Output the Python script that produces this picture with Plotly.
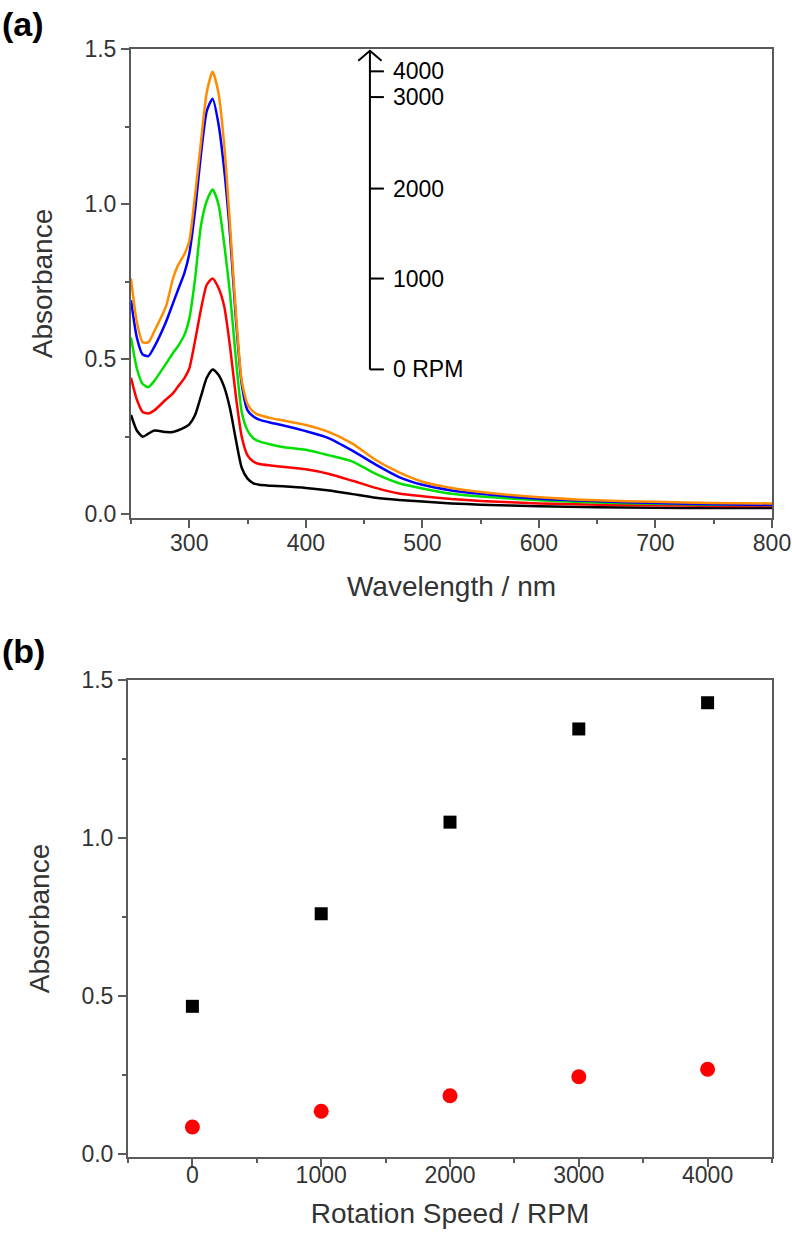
import plotly.graph_objects as go

# (a) UV-vis spectra at different rotation speeds
wavelength = [250, 255, 260, 265, 270, 280, 286, 290, 296, 300, 305, 310, 315, 320, 325,
              330, 335, 340, 345, 350, 355, 360, 370, 380, 400, 420, 440, 460, 480,
              500, 525, 550, 600, 650, 700, 750, 800]

abs_0rpm = [0.32, 0.27, 0.25, 0.26, 0.27, 0.265, 0.265, 0.27, 0.28, 0.29, 0.32, 0.38, 0.44,
            0.467, 0.45, 0.41, 0.34, 0.24, 0.15, 0.115, 0.10, 0.095, 0.092, 0.09, 0.085,
            0.077, 0.065, 0.053, 0.046, 0.041, 0.035, 0.031, 0.026, 0.023, 0.021, 0.02, 0.02]
abs_1000rpm = [0.44, 0.37, 0.33, 0.325, 0.335, 0.37, 0.39, 0.41, 0.44, 0.47, 0.56, 0.66, 0.74,
               0.76, 0.73, 0.67, 0.54, 0.38, 0.25, 0.19, 0.17, 0.162, 0.157, 0.153, 0.145,
               0.13, 0.108, 0.085, 0.067, 0.058, 0.049, 0.043, 0.035, 0.031, 0.029, 0.027, 0.027]
abs_2000rpm = [0.57, 0.47, 0.42, 0.41, 0.43, 0.485, 0.52, 0.54, 0.58, 0.63, 0.76, 0.93, 1.01,
               1.047, 1.00, 0.87, 0.71, 0.50, 0.33, 0.27, 0.245, 0.235, 0.225, 0.217, 0.208,
               0.19, 0.17, 0.13, 0.10, 0.083, 0.066, 0.057, 0.045, 0.038, 0.034, 0.031, 0.03]
abs_3000rpm = [0.69, 0.57, 0.515, 0.51, 0.54, 0.62, 0.68, 0.72, 0.78, 0.84, 0.98, 1.16, 1.30,
               1.34, 1.26, 1.11, 0.90, 0.63, 0.42, 0.335, 0.315, 0.305, 0.295, 0.287, 0.268,
               0.245, 0.205, 0.16, 0.12, 0.095, 0.077, 0.066, 0.05, 0.042, 0.036, 0.032, 0.03]
abs_4000rpm = [0.76, 0.62, 0.555, 0.555, 0.59, 0.67, 0.76, 0.80, 0.84, 0.88, 1.03, 1.20, 1.36,
               1.427, 1.36, 1.19, 0.93, 0.65, 0.43, 0.355, 0.33, 0.32, 0.31, 0.303, 0.288,
               0.265, 0.228, 0.175, 0.135, 0.105, 0.085, 0.072, 0.055, 0.045, 0.04, 0.036, 0.035]

spectra = [abs_0rpm, abs_1000rpm, abs_2000rpm, abs_3000rpm, abs_4000rpm]
colors = ["#000000", "#ff0000", "#00e000", "#0000ff", "#ff8c00"]

# (b) absorbance vs rotation speed
rpm = [0, 1000, 2000, 3000, 4000]
rpm_labels = ["0 RPM", "1000", "2000", "3000", "4000"]
peak_abs = [0.467, 0.76, 1.05, 1.345, 1.428]
shoulder_abs = [0.085, 0.135, 0.184, 0.244, 0.268]

W, H = 792, 1242
font = "Liberation Sans, Arial, sans-serif"
axis_col = "#5a5a5a"
tick_col = "#333333"

fig = go.Figure()

for ys, c in zip(spectra, colors):
    fig.add_trace(go.Scatter(x=wavelength, y=ys, mode="lines",
                             line=dict(color=c, width=2.5, shape="spline", smoothing=0.6),
                             xaxis="x", yaxis="y", showlegend=False))

fig.add_trace(go.Scatter(x=rpm, y=peak_abs, mode="markers",
                         marker=dict(symbol="square", size=13, color="black"),
                         xaxis="x2", yaxis="y2", showlegend=False))
fig.add_trace(go.Scatter(x=rpm, y=shoulder_abs, mode="markers",
                         marker=dict(symbol="circle", size=15, color="#ff0000"),
                         xaxis="x2", yaxis="y2", showlegend=False))

# inset rpm scale drawn inside panel (a)
scale_x = 455
tick_w = 12
shapes = [dict(type="line", xref="x", yref="y", x0=scale_x, x1=scale_x,
               y0=peak_abs[0], y1=1.494, line=dict(color="black", width=2)),
          dict(type="path", xref="x", yref="y",
               path=f"M {scale_x - 10} 1.462 L {scale_x} 1.494 L {scale_x + 10} 1.462",
               line=dict(color="black", width=2))]
annotations = []
for p, lab in zip(peak_abs, rpm_labels):
    shapes.append(dict(type="line", xref="x", yref="y", x0=scale_x, x1=scale_x + tick_w,
                       y0=p, y1=p, line=dict(color="black", width=2)))
    annotations.append(dict(x=scale_x + 18, y=p, xref="x", yref="y", text=lab,
                            showarrow=False, xanchor="left", yanchor="middle",
                            font=dict(size=23, color="black", family=font)))

annotations += [
    dict(x=0, y=1 - 24 / H, xref="paper", yref="paper", text="<b>(a)</b>", showarrow=False,
         xanchor="left", yanchor="middle", font=dict(size=34, color="black", family=font)),
    dict(x=0, y=1 - 651 / H, xref="paper", yref="paper", text="<b>(b)</b>", showarrow=False,
         xanchor="left", yanchor="middle", font=dict(size=34, color="black", family=font)),
]

common = dict(showline=True, mirror=True, linecolor=axis_col, linewidth=2, ticks="outside",
              ticklen=8, tickwidth=1.5, tickcolor=axis_col, showgrid=False, zeroline=False,
              automargin=False, tickfont=dict(size=23, color=tick_col, family=font))
title_font = dict(size=28, color=tick_col, family=font)

fig.update_layout(
    width=W, height=H,
    margin=dict(l=0, r=0, t=0, b=0),
    paper_bgcolor="white", plot_bgcolor="white",
    showlegend=False,
    shapes=shapes, annotations=annotations,
    xaxis=dict(domain=[131 / W, 772 / W], range=[250, 800], tick0=300, dtick=100,
               minor=dict(dtick=50, ticklen=4, tickcolor=axis_col, ticks="outside"),
               ticklabelstandoff=-5,
               title=dict(text="Wavelength / nm", font=title_font, standoff=22),
               anchor="y", **common),
    yaxis=dict(domain=[1 - 518 / H, 1 - 49 / H], range=[-0.012, 1.5], dtick=0.5, tickformat=".1f",
               minor=dict(dtick=0.25, ticklen=4, tickcolor=axis_col, ticks="outside"),
               title=dict(text="Absorbance", font=title_font, standoff=24),
               anchor="x", **common),
    xaxis2=dict(domain=[128 / W, 772 / W], range=[-500, 4500], tick0=0, dtick=1000,
                minor=dict(dtick=500, ticklen=4, tickcolor=axis_col, ticks="outside"),
                ticklabelstandoff=-12,
                title=dict(text="Rotation Speed / RPM", font=title_font, standoff=17),
                anchor="y2", **common),
    yaxis2=dict(domain=[1 - 1157 / H, 1 - 680 / H], range=[-0.01, 1.5], dtick=0.5, tickformat=".1f",
                minor=dict(dtick=0.25, ticklen=4, tickcolor=axis_col, ticks="outside"),
                title=dict(text="Absorbance", font=title_font, standoff=24),
                anchor="x2", **common),
)

fig.write_html("out.html", config={"displayModeBar": False},
               post_script="document.body.style.margin='0';")
